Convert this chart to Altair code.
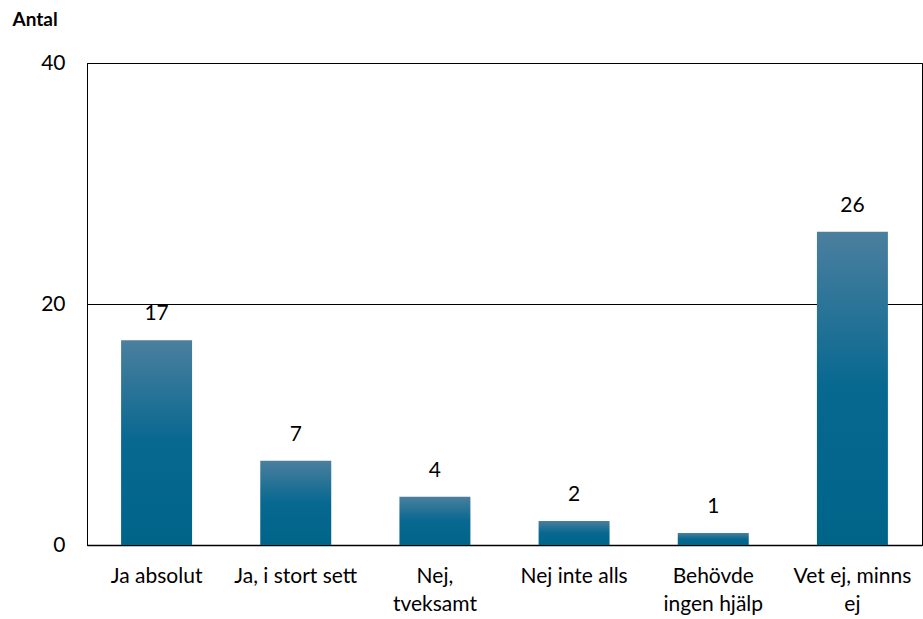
import altair as alt
import pandas as pd

categories = ["Ja absolut", "Ja, i stort sett", "Nej,\ntveksamt", "Nej inte alls",
              "Behövde\ningen hjälp", "Vet ej, minns\nej"]
values = [17, 7, 4, 2, 1, 26]
y_ticks = [0, 20, 40]

df = pd.DataFrame({"kategori": categories, "antal": values})

FONT = "Lato"
FS = 21

grad = alt.Gradient(
    gradient="linear", x1=0, x2=0, y1=0, y2=1,
    stops=[alt.GradientStop(color="#4b7f9e", offset=0),
           alt.GradientStop(color="#076890", offset=0.5),
           alt.GradientStop(color="#006489", offset=1)],
)

x = alt.X("kategori:N", sort=categories,
          scale=alt.Scale(paddingInner=0.49, paddingOuter=0.245),
          axis=alt.Axis(title=None, labelAngle=0, ticks=False, domainColor="black",
                        domainWidth=1.5, labelFont=FONT, labelFontSize=FS,
                        labelColor="black", labelPadding=20, labelLineHeight=28,
                        labelExpr="split(datum.label, '\\n')", labelBaseline="top"))
y = alt.Y("antal:Q", scale=alt.Scale(domain=[0, 40]),
          axis=alt.Axis(values=y_ticks, title="Antal", titleAngle=0, titleX=-75,
                        titleY=-38, titleAlign="left", titleBaseline="alphabetic",
                        titleFont=FONT, titleFontSize=19, titleFontWeight="bold",
                        titleColor="black", ticks=False, domainColor="black",
                        labelFont=FONT, labelFontSize=FS, labelColor="black",
                        labelPadding=22, gridColor="black", gridWidth=1,
                        gridOpacity=1))

bars = alt.Chart(df).mark_bar(color=grad).encode(x=x, y=y)
text = alt.Chart(df).mark_text(baseline="bottom", dy=-16, font=FONT, fontSize=FS,
                               color="black").encode(
    x=alt.X("kategori:N", sort=categories), y="antal:Q", text="antal:Q")

chart = (bars + text).properties(
    width=835, height=482,
    autosize=alt.AutoSizeParams(type="none"),
    padding={"left": 87, "top": 63, "right": 1, "bottom": 74},
    background="white",
).configure_view(stroke="black", strokeWidth=1)

chart.save("out.html", embed_options={"renderer": "svg", "actions": False})
